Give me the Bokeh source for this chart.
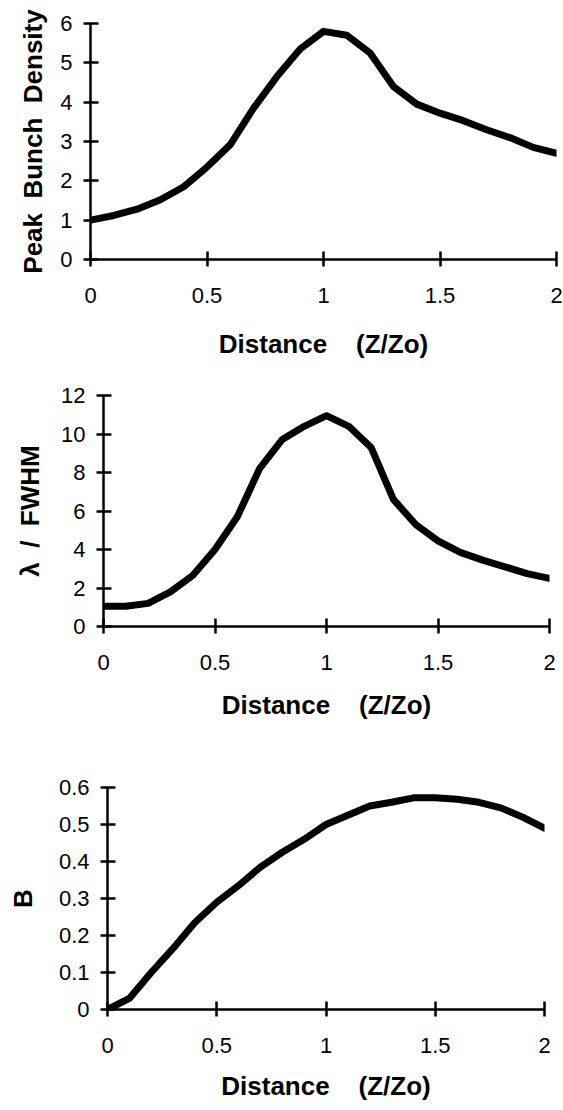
from bokeh.plotting import figure
from bokeh.models import FixedTicker, NumeralTickFormatter, Range1d
from bokeh.embed import file_html
from bokeh.resources import INLINE

# ---- data ----
distance = [0.0, 0.1, 0.2, 0.3, 0.4, 0.5, 0.6, 0.7, 0.8, 0.9, 1.0,
            1.1, 1.2, 1.3, 1.4, 1.5, 1.6, 1.7, 1.8, 1.9, 2.0]
peak_density = [1.0, 1.12, 1.28, 1.52, 1.85, 2.35, 2.92, 3.85, 4.65, 5.35, 5.8,
                5.7, 5.25, 4.4, 3.95, 3.72, 3.53, 3.3, 3.1, 2.85, 2.7]
lambda_fwhm = [1.05, 1.05, 1.2, 1.8, 2.65, 4.0, 5.7, 8.2, 9.7, 10.4, 10.95,
               10.4, 9.3, 6.6, 5.3, 4.45, 3.85, 3.45, 3.1, 2.75, 2.5]
bunching = [0.0, 0.03, 0.1, 0.165, 0.235, 0.29, 0.335, 0.385, 0.425, 0.46, 0.5,
            0.525, 0.55, 0.56, 0.572, 0.572, 0.568, 0.56, 0.545, 0.52, 0.49]

x_ticks = [0, 0.5, 1, 1.5, 2]
y1_ticks = [0, 1, 2, 3, 4, 5, 6]
y2_ticks = [0, 2, 4, 6, 8, 10, 12]
y3_ticks = [0, 0.1, 0.2, 0.3, 0.4, 0.5, 0.6]

x_title = "Distance\u00a0\u00a0\u00a0\u00a0(Z/Zo)"
y1_title = "Peak\u00a0\u00a0Bunch\u00a0\u00a0Density"
y2_title = "\u03bb\u00a0\u00a0/\u00a0\u00a0FWHM"
y3_title = "B"

FONT = "Liberation Sans"


def make(y, yticks, ytitle, height, left, right, top, bottom,
         y_label_standoff, x_label_standoff):
    p = figure(width=563, height=height,
               x_range=Range1d(0, 2), y_range=Range1d(yticks[0], yticks[-1]),
               output_backend="svg", toolbar_location=None,
               min_border_left=left, min_border_right=right,
               min_border_top=top, min_border_bottom=bottom)
    p.outline_line_color = None
    p.background_fill_color = "white"
    p.border_fill_color = "white"
    p.xgrid.visible = False
    p.ygrid.visible = False
    p.line(distance, y, line_width=7, line_color="black",
           line_join="round", line_cap="round")

    for ax in (p.xaxis[0], p.yaxis[0]):
        ax.axis_line_width = 2.5
        ax.axis_line_color = "black"
        ax.major_tick_line_width = 2.5
        ax.major_tick_line_color = "black"
        ax.major_tick_in = 8
        ax.major_tick_out = 7
        ax.minor_tick_line_color = None
        ax.major_label_text_font = FONT
        ax.major_label_text_font_size = "22px"
        ax.major_label_text_color = "black"
        ax.axis_label_text_font = FONT
        ax.axis_label_text_font_style = "bold"
        ax.axis_label_text_font_size = "26px"
        ax.axis_label_text_color = "black"
        ax.formatter = NumeralTickFormatter(format="0.[0]")

    p.xaxis.ticker = FixedTicker(ticks=x_ticks)
    p.yaxis.ticker = FixedTicker(ticks=yticks)
    p.xaxis.major_label_standoff = 21
    p.yaxis.major_label_standoff = 11
    p.xaxis.axis_label = x_title
    p.yaxis.axis_label = ytitle
    p.xaxis.axis_label_standoff = x_label_standoff
    p.yaxis.axis_label_standoff = y_label_standoff
    return p


p1 = make(peak_density, y1_ticks, y1_title, 368, 90, 7, 23, 109, 9, 23)
p2 = make(lambda_fwhm, y2_ticks, y2_title, 360, 103, 14, 27, 102, 13, 17)
p3 = make(bunching, y3_ticks, y3_title, 380, 107, 19, 59, 99, 18, 15)

open("out.html", "w").write(file_html([p1, p2, p3], INLINE))
